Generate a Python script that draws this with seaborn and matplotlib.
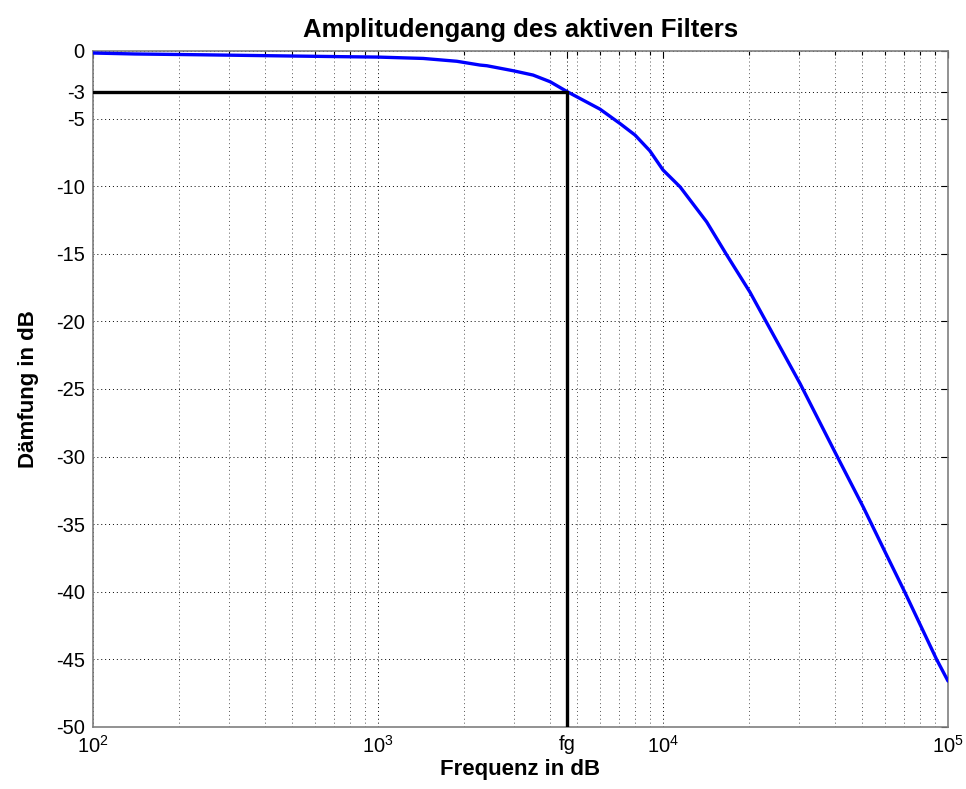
import numpy as np
import pandas as pd
import matplotlib
matplotlib.use("Agg")
import matplotlib.pyplot as plt
import seaborn as sns
from matplotlib.ticker import FixedLocator, LogLocator, NullFormatter

# ---- data ----
freq_hz = [100, 140, 240, 420, 750, 1000, 1440, 1890, 2280, 2410, 2980, 3500,
           4015, 4605, 6010, 7060, 7980, 8990, 10000, 11480, 14230, 16750,
           20180, 30270, 40640, 50470, 60950, 70630, 91200, 100000]
atten_db = [-0.15, -0.22, -0.28, -0.35, -0.42, -0.45, -0.55, -0.76, -1.04, -1.09,
            -1.46, -1.78, -2.27, -3.0, -4.3, -5.36, -6.22, -7.38, -8.8, -10.05,
            -12.64, -15.1, -17.83, -24.6, -29.9, -33.75, -37.3, -40.05, -45.0, -46.6]
fg = 4605
fg_level = -3
y_ticks = [0, -3, -5, -10, -15, -20, -25, -30, -35, -40, -45, -50]
x_ticks = [1e2, 1e3, fg, 1e4, 1e5]
x_tick_labels = [r"$10^{2}$", r"$10^{3}$", "fg", r"$10^{4}$", r"$10^{5}$"]
title = "Amplitudengang des aktiven Filters"
xlabel = "Frequenz in dB"
ylabel = "Dämfung in dB"

sns.set_style("white")
plt.rcParams["font.family"] = ["Liberation Sans", "DejaVu Sans"]
plt.rcParams["mathtext.fontset"] = "custom"
plt.rcParams["mathtext.rm"] = "Liberation Sans"
plt.rcParams["mathtext.it"] = "Liberation Sans:italic"
plt.rcParams["mathtext.bf"] = "Liberation Sans:bold"
plt.rcParams["text.color"] = "black"
plt.rcParams["axes.labelcolor"] = "black"
plt.rcParams["xtick.color"] = "black"
plt.rcParams["ytick.color"] = "black"

df = pd.DataFrame({"f": freq_hz, "a": atten_db})

fig = plt.figure(figsize=(9.66, 7.89), dpi=100)
ax = fig.add_axes([93/966, 1-727/789, (948-93)/966, (727-51)/789])

ax.set_xscale("log")
ax.set_xlim(1e2, 1e5)
ax.set_ylim(-50, 0)

# grid
ax.xaxis.set_minor_locator(LogLocator(base=10, subs=np.arange(2, 10)))
ax.xaxis.set_minor_formatter(NullFormatter())
ax.grid(True, which="major", axis="both", linestyle=(0, (1, 3)), color="black", linewidth=0.7)
ax.grid(True, which="minor", axis="x", linestyle=(0, (1, 3)), color="#555555", linewidth=0.7)

sns.lineplot(data=df, x="f", y="a", ax=ax, color="#0000ff", linewidth=2.4, zorder=3)

ax.plot([1e2, fg], [fg_level, fg_level], color="black", linewidth=2.4, zorder=4)
ax.plot([fg, fg], [-50, fg_level], color="black", linewidth=2.4, zorder=4)

ax.xaxis.set_major_locator(FixedLocator(x_ticks))
ax.set_xticklabels(x_tick_labels)
ax.set_yticks(y_ticks)
ax.set_yticklabels([str(v) for v in y_ticks])

ax.tick_params(axis="both", which="both", direction="in", top=True, right=True,
               labelsize=14.5, colors="black")
ax.tick_params(axis="both", which="major", length=5, width=0.8, pad=6)
ax.tick_params(axis="x", which="minor", length=3, width=0.8)
for s in ax.spines.values():
    s.set_color("#7f7f7f")
    s.set_linewidth(1.2)
    s.set_visible(True)

ax.set_title(title, fontsize=18.5, fontweight="bold", pad=10, color="black")
ax.set_xlabel(xlabel, fontsize=16, fontweight="bold", labelpad=1, color="black")
ax.set_ylabel(ylabel, fontsize=16, fontweight="bold", labelpad=12, color="black")

fig.savefig("out.png", dpi=100)
